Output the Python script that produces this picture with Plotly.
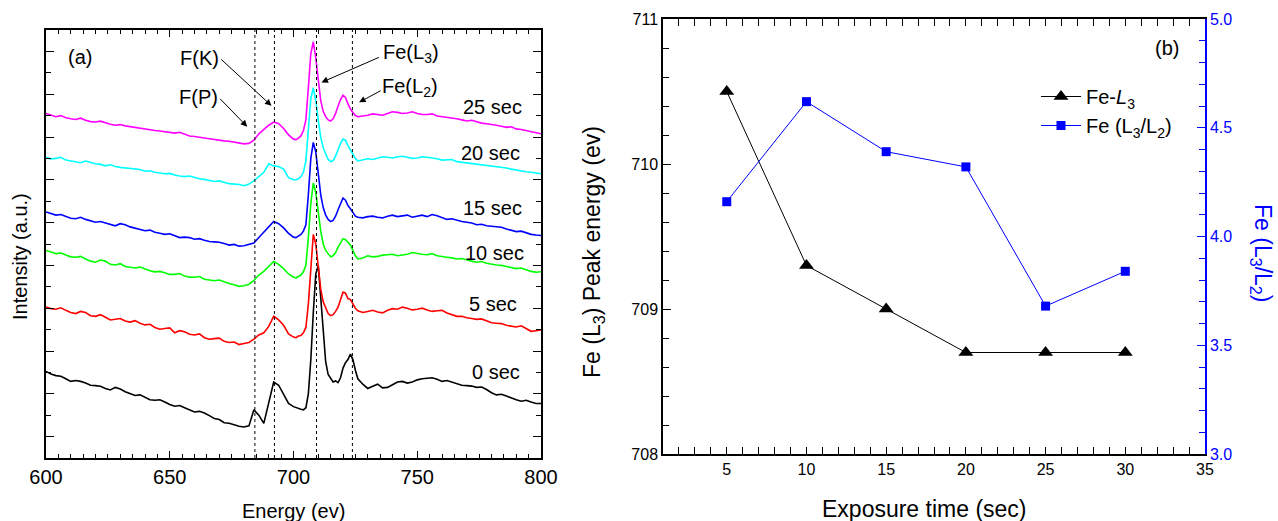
import plotly.graph_objects as go

# ---------------- Panel (a): XAS spectra ----------------
energy_lo = list(range(600, 680, 2))                       # 600 ... 678
energy_mid = [680, 682, 684, 686, 688, 690, 692, 694, 696, 698, 700,
              701, 702, 703, 704, 705, 706, 707, 708, 709, 710, 711, 712, 713, 714, 715, 716, 717, 718, 719, 720,
              721, 722, 723, 724, 725, 726]
energy_hi = list(range(728, 802, 2))                       # 728 ... 800
energy = energy_lo + energy_mid + energy_hi

int_0s = ([4.05, 3.92, 3.85, 3.82, 3.70, 3.58, 3.62, 3.58, 3.50, 3.40, 3.38, 3.35, 3.25, 3.18, 3.30, 3.22, 3.10, 3.02, 2.92, 2.95,
           2.85, 2.72, 2.70, 2.72, 2.62, 2.50, 2.42, 2.45, 2.35, 2.25, 2.15, 2.18, 2.10, 1.98, 1.85, 1.80, 1.65, 1.62, 1.55, 1.48]
          + [1.45, 1.50, 2.25, 2.00, 1.62, 2.60, 3.55, 3.40, 2.95, 2.55, 2.40,
             2.35, 2.30, 2.28, 2.25, 2.35, 3.00, 4.60, 6.80, 8.60, 9.00, 7.60, 5.90, 4.50, 3.90, 3.70, 3.55, 3.60, 3.52, 3.75, 4.20,
             4.45, 4.60, 4.85, 4.60, 4.10, 3.70]
          + [3.45, 3.25, 3.35, 3.45, 3.28, 3.30, 3.42, 3.55, 3.58, 3.50, 3.55, 3.65, 3.70, 3.72, 3.75, 3.68, 3.58, 3.62, 3.55,
             3.48, 3.40, 3.38, 3.36, 3.30, 3.32, 3.20, 3.05, 2.95, 2.98, 2.90, 2.80, 2.72, 2.65, 2.70, 2.62, 2.55, 2.55])

int_5s = ([7.05, 6.98, 6.95, 7.02, 6.90, 6.80, 6.75, 6.85, 6.80, 6.65, 6.62, 6.70, 6.58, 6.45, 6.48, 6.52, 6.40, 6.35, 6.42, 6.30,
           6.22, 6.25, 6.10, 6.02, 6.05, 6.08, 5.85, 5.95, 5.90, 5.78, 5.75, 5.80, 5.62, 5.55, 5.58, 5.60, 5.45, 5.40, 5.42, 5.30]
          + [5.35, 5.40, 5.55, 5.75, 5.85, 6.15, 6.62, 6.45, 6.20, 5.80, 5.65,
             5.62, 5.70, 5.72, 5.85, 6.10, 7.20, 9.00, 10.45, 10.00, 8.90, 7.90, 7.30, 7.00, 6.75, 6.65, 6.70, 6.85, 7.05, 7.40, 7.75,
             7.70, 7.45, 7.40, 7.20, 7.00, 6.88]
          + [6.80, 6.85, 6.90, 6.82, 6.78, 6.90, 6.98, 6.95, 7.05, 7.00, 6.92, 6.95, 7.00, 6.92, 6.85, 6.88, 6.90, 6.78, 6.70,
             6.62, 6.62, 6.55, 6.52, 6.48, 6.50, 6.40, 6.32, 6.30, 6.28, 6.20, 6.15, 6.12, 6.18, 6.05, 5.92, 5.95, 5.98])

int_10s = ([9.70, 9.62, 9.55, 9.58, 9.50, 9.40, 9.38, 9.42, 9.30, 9.20, 9.15, 9.25, 9.20, 9.05, 9.02, 9.08, 8.95, 8.90, 8.88, 8.92,
            8.82, 8.75, 8.70, 8.72, 8.66, 8.58, 8.58, 8.62, 8.50, 8.45, 8.45, 8.48, 8.35, 8.30, 8.28, 8.32, 8.22, 8.15, 8.10, 8.02]
           + [8.05, 8.12, 8.30, 8.55, 8.72, 8.95, 9.18, 9.05, 8.85, 8.60, 8.45,
              8.42, 8.50, 8.55, 8.70, 9.00, 10.30, 11.90, 12.85, 12.40, 11.50, 10.60, 10.00, 9.70, 9.55, 9.40, 9.45, 9.60, 9.85, 10.05, 10.25,
              10.20, 10.05, 9.95, 9.70, 9.45, 9.30]
           + [9.35, 9.45, 9.40, 9.42, 9.48, 9.50, 9.52, 9.45, 9.48, 9.52, 9.60, 9.55, 9.52, 9.50, 9.55, 9.45, 9.40, 9.38, 9.35,
              9.30, 9.32, 9.25, 9.20, 9.15, 9.18, 9.10, 9.05, 9.02, 9.00, 8.95, 8.90, 8.85, 8.88, 8.80, 8.72, 8.68, 8.70])

int_15s = ([11.50, 11.42, 11.35, 11.38, 11.30, 11.20, 11.18, 11.25, 11.15, 11.08, 11.02, 11.05, 10.98, 10.92, 10.85, 10.95, 10.90, 10.80, 10.75, 10.70,
            10.62, 10.65, 10.55, 10.50, 10.45, 10.48, 10.38, 10.30, 10.32, 10.30, 10.22, 10.25, 10.18, 10.12, 10.10, 10.08, 10.02, 9.95, 9.98, 9.90]
           + [9.92, 9.98, 10.05, 10.30, 10.55, 10.85, 11.05, 10.95, 10.75, 10.50, 10.32,
              10.30, 10.38, 10.45, 10.60, 10.90, 12.30, 14.00, 14.75, 14.30, 13.30, 12.30, 11.70, 11.35, 11.15, 11.05, 11.10, 11.30, 11.60, 11.90, 12.15,
              12.05, 11.80, 11.65, 11.45, 11.30, 11.25]
           + [11.22, 11.28, 11.30, 11.25, 11.22, 11.30, 11.35, 11.28, 11.30, 11.35, 11.25, 11.30, 11.35, 11.28, 11.38, 11.32, 11.25, 11.15, 11.18,
              11.10, 11.05, 11.02, 10.98, 10.90, 10.92, 10.85, 10.82, 10.80, 10.78, 10.70, 10.65, 10.58, 10.60, 10.52, 10.45, 10.42, 10.40])

int_20s = ([14.05, 13.98, 14.00, 14.05, 13.92, 13.88, 13.85, 13.80, 13.88, 13.80, 13.75, 13.72, 13.65, 13.70, 13.62, 13.58, 13.55, 13.52, 13.50, 13.48,
            13.40, 13.42, 13.35, 13.30, 13.28, 13.30, 13.22, 13.18, 13.15, 13.18, 13.10, 13.05, 13.02, 12.98, 12.92, 12.95, 12.88, 12.82, 12.80, 12.78]
           + [12.72, 12.80, 12.95, 13.15, 13.35, 13.75, 13.65, 13.62, 13.50, 13.10, 13.00,
              13.00, 13.05, 13.15, 13.35, 13.90, 15.40, 16.80, 17.30, 16.70, 15.80, 15.00, 14.50, 14.20, 13.95, 13.85, 13.90, 14.10, 14.40, 14.70, 14.90,
              14.85, 14.60, 14.40, 14.20, 14.00, 13.88]
           + [13.92, 13.98, 13.95, 14.02, 14.08, 14.05, 14.02, 14.08, 14.10, 14.05, 14.00, 14.02, 14.08, 14.05, 14.02, 13.98, 13.92, 13.95, 13.95,
              13.85, 13.82, 13.80, 13.78, 13.72, 13.70, 13.68, 13.65, 13.60, 13.58, 13.55, 13.50, 13.45, 13.42, 13.38, 13.35, 13.30, 13.28])

int_25s = ([16.10, 16.02, 15.95, 16.00, 15.90, 15.85, 15.82, 15.88, 15.78, 15.72, 15.70, 15.74, 15.66, 15.60, 15.55, 15.58, 15.52, 15.48, 15.45, 15.42,
            15.38, 15.35, 15.30, 15.28, 15.25, 15.20, 15.18, 15.22, 15.12, 15.05, 15.02, 15.00, 14.95, 14.92, 14.88, 14.85, 14.82, 14.80, 14.75, 14.72]
           + [14.68, 14.70, 14.85, 15.15, 15.35, 15.55, 15.70, 15.62, 15.40, 15.10, 14.90,
              14.88, 14.95, 15.05, 15.30, 15.80, 17.30, 18.90, 19.45, 18.70, 17.70, 16.70, 16.20, 15.95, 15.80, 15.75, 15.85, 16.10, 16.45, 16.75, 16.95,
              16.85, 16.55, 16.30, 16.15, 16.00, 15.95]
           + [15.98, 16.02, 16.08, 16.05, 16.02, 16.10, 16.18, 16.15, 16.10, 16.12, 16.18, 16.10, 16.05, 16.05, 16.08, 15.98, 15.95, 15.92, 15.90,
              15.85, 15.80, 15.75, 15.78, 15.70, 15.65, 15.62, 15.60, 15.55, 15.50, 15.45, 15.48, 15.38, 15.35, 15.30, 15.25, 15.18, 15.15])

spectra_labels = ["0 sec", "5 sec", "10 sec", "15 sec", "20 sec", "25 sec"]
spectra_colors = ["#000000", "#FF0000", "#00FF00", "#0000FF", "#00FFFF", "#FF00FF"]
spectra = [int_0s, int_5s, int_10s, int_15s, int_20s, int_25s]
label_pos_e = [782, 780.5, 781.3, 780.2, 779.5, 780.2]
label_pos_i = [4.03, 7.2, 9.56, 11.68, 14.24, 16.39]

ref_lines = [684.4, 692.3, 709.3, 723.8]

# ---------------- Panel (b): peak energy / ratio ----------------
exposure = [5, 10, 15, 20, 25, 30]
fe_l3_peak = [710.5, 709.3, 709.0, 708.7, 708.7, 708.7]
fe_l3_l2 = [4.16, 4.62, 4.39, 4.32, 3.68, 3.84]

FONT = "Liberation Sans, Arial, sans-serif"
W, H = 1278, 521


def px(x):
    return x / W


def py(y):
    return 1 - y / H


fig = go.Figure()

for vals, col in zip(spectra, spectra_colors):
    fig.add_trace(go.Scatter(x=energy, y=vals, mode="lines", line=dict(color=col, width=1.6),
                             showlegend=False, xaxis="x", yaxis="y", hoverinfo="skip"))

fig.add_trace(go.Scatter(x=exposure, y=fe_l3_peak, mode="lines+markers", name="Fe-<i>L</i><sub>3</sub>",
                         line=dict(color="black", width=1),
                         marker=dict(symbol="triangle-up", size=13, color="black"),
                         xaxis="x2", yaxis="y2"))
fig.add_trace(go.Scatter(x=exposure, y=fe_l3_l2, mode="lines+markers", name="Fe (L<sub>3</sub>/L<sub>2</sub>)",
                         line=dict(color="#0000FF", width=1),
                         marker=dict(symbol="square", size=9, color="#0000FF"),
                         xaxis="x2", yaxis="y3"))

shapes = []
for e in ref_lines:
    shapes.append(dict(type="line", xref="x", yref="y domain", x0=e, x1=e, y0=0, y1=1,
                       line=dict(color="black", width=1, dash="dot")))

ann = []
for lab, e, i in zip(spectra_labels, label_pos_e, label_pos_i):
    ann.append(dict(x=e, y=i, xref="x", yref="y", text=lab, showarrow=False,
                    font=dict(size=20, color="black", family=FONT)))

ann.append(dict(x=613.6, y=18.72, xref="x", yref="y", text="(a)", showarrow=False,
                font=dict(size=20, family=FONT)))
ann.append(dict(x=662, y=18.69, xref="x", yref="y", text="F(K)", showarrow=False, font=dict(size=20, family=FONT)))
ann.append(dict(x=661.6, y=16.88, xref="x", yref="y", text="F(P)", showarrow=False, font=dict(size=20, family=FONT)))
ann.append(dict(x=747.4, y=18.88, xref="x", yref="y", text="Fe(L<sub>3</sub>)", showarrow=False,
                font=dict(size=20, family=FONT)))
ann.append(dict(x=747.1, y=17.29, xref="x", yref="y", text="Fe(L<sub>2</sub>)", showarrow=False,
                font=dict(size=20, family=FONT)))

arrows = [((670.2, 18.69), (691.1, 16.46)),
          ((669.8, 16.85), (681.3, 15.48)),
          ((735.1, 18.75), (711.3, 17.55)),
          ((735.8, 17.20), (726.5, 16.62))]
for (x0, y0), (x1, y1) in arrows:
    ann.append(dict(x=x1, y=y1, ax=x0, ay=y0, xref="x", yref="y", axref="x", ayref="y", text="",
                    showarrow=True, arrowhead=2, arrowsize=1.3, arrowwidth=1, arrowcolor="black", standoff=0))


def paper_text(x, y, text, size, angle=0, color="black"):
    return dict(x=px(x), y=py(y), xref="paper", yref="paper", text=text, textangle=angle,
                xanchor="center", yanchor="middle", showarrow=False,
                font=dict(size=size, family=FONT, color=color))


ann.append(paper_text(20, 257, "Intensity (a.u.)", 20, -90))
ann.append(paper_text(293, 511, "Energy (ev)", 20))
ann.append(paper_text(924, 509, "Exposure time (sec)", 23))
ann.append(paper_text(593, 252, "Fe (L<sub>3</sub>) Peak energy (ev)", 23, -90))
ann.append(paper_text(1261, 253, "Fe (L<sub>3</sub>/L<sub>2</sub>)", 23, 90, "#0000FF"))
ann.append(paper_text(1167, 48, "(b)", 20))

common = dict(showgrid=False, zeroline=False, showline=True, linecolor="black", linewidth=1.5,
              ticks="inside", tickcolor="black", tickwidth=1.2, automargin=False)

fig.update_layout(
    template="none",
    width=W, height=H,
    margin=dict(l=0, r=0, t=0, b=0, pad=0, autoexpand=False),
    paper_bgcolor="white", plot_bgcolor="white",
    font=dict(family=FONT, color="black"),
    shapes=shapes, annotations=ann,
    xaxis=dict(domain=[px(46), px(541)], anchor="y", range=[600, 800], dtick=50, ticklen=7,
               mirror="allticks", minor=dict(dtick=5, ticklen=4, ticks="inside", tickcolor="black"),
               tickfont=dict(size=20), **common),
    yaxis=dict(domain=[py(458), py(30)], anchor="x", range=[0, 20], tick0=1, dtick=2, ticklen=8,
               showticklabels=False, mirror="allticks",
               minor=dict(dtick=1, ticklen=5, ticks="inside", tickcolor="black"), **common),
    xaxis2=dict(domain=[px(663), px(1205)], anchor="y2", range=[1, 35], tickvals=[5, 10, 15, 20, 25, 30, 35],
                ticklen=7, mirror="allticks",
                minor=dict(dtick=1, ticklen=5, ticks="inside", tickcolor="black"),
                tickfont=dict(size=16), **common),
    yaxis2=dict(domain=[py(454), py(19)], anchor="x2", range=[708, 711], dtick=1, ticklen=8,
                minor=dict(dtick=0.2, ticklen=6, ticks="inside", tickcolor="black"),
                tickfont=dict(size=16), **common),
    yaxis3=dict(overlaying="y2", side="right", anchor="x2", range=[3, 5], dtick=0.5, tickformat=".1f",
                showgrid=False, zeroline=False, showline=True, linecolor="#0000FF", linewidth=1.5,
                ticks="inside", tickcolor="#0000FF", tickwidth=1.2, ticklen=8, automargin=False,
                minor=dict(dtick=0.1, ticklen=6, ticks="inside", tickcolor="#0000FF"),
                tickfont=dict(size=16, color="#0000FF")),
    legend=dict(x=px(1036), y=py(77), xanchor="left", yanchor="top", bgcolor="rgba(0,0,0,0)",
                font=dict(size=20, family=FONT), tracegroupgap=0, itemwidth=40),
)

fig.write_html("out.html", config={"displayModeBar": False},
               post_script="document.body.style.margin='0';document.body.style.overflow='hidden';")
